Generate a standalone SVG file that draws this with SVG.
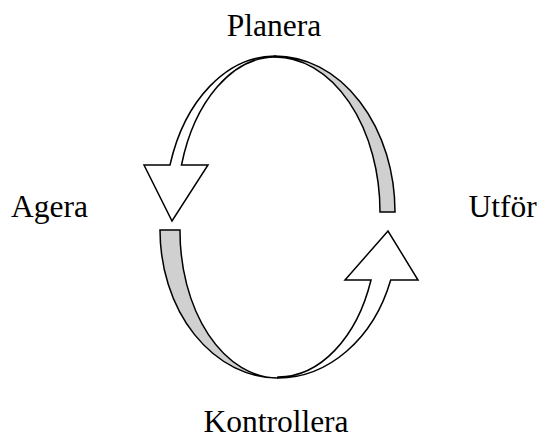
<svg xmlns="http://www.w3.org/2000/svg" width="540" height="435" viewBox="0 0 540 435">
<style>
.lbl{font-family:"Liberation Serif","Times New Roman",serif;font-size:31.5px;fill:#000}
.front{fill:#fff;stroke:#000;stroke-width:1.5;stroke-linejoin:miter}
.back{fill:#d0d0d0;stroke:#000;stroke-width:1.5}
</style>
<rect width="540" height="435" fill="#fff"/>
<g id="connectors">
<g id="arrow-top">
<path class="back" d="M275,56 A120,156 0 0 1 395,212 L380,212 A105,155 0 0 0 275,57 Z"/>
<path class="front" d="M275,56 A110,156 0 0 0 170,165 L144,165 L172,221 L208,165 L181.5,165 A98.5,155 0 0 1 275,57 Z"/>
</g>
<g id="arrow-bottom">
<path class="back" d="M160,230 A118,148 0 0 0 278,378 A98,147 0 0 1 180,230 Z"/>
<path class="front" d="M278,378 A119.8,148 0 0 0 390.7,280 L418,280 L388,231 L345,280 L371,280 A98.8,147 0 0 1 278,377 Z"/>
</g>
</g>
<g id="planera"><text class="lbl" x="274" y="35.5" text-anchor="middle">Planera</text></g>
<g id="agera"><text class="lbl" x="11" y="217">Agera</text></g>
<g id="utfor"><text class="lbl" x="468.5" y="217">Utför</text></g>
<g id="kontrollera"><text class="lbl" x="276" y="431.5" text-anchor="middle">Kontrollera</text></g>
</svg>
